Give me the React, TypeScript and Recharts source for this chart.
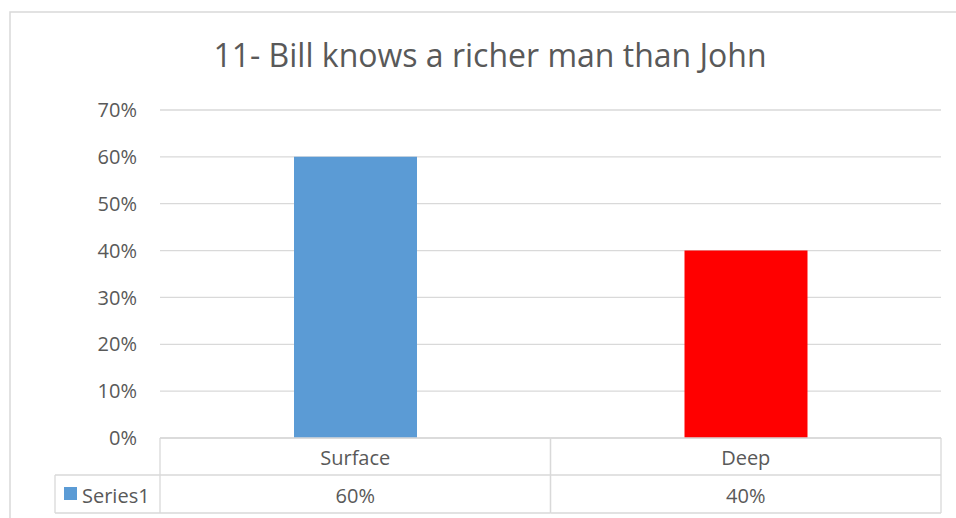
import React from 'react';
import { BarChart, Bar, XAxis, YAxis, CartesianGrid, Cell } from 'recharts';

const categories = ['Surface', 'Deep'];
const series1 = [0.6, 0.4];
const barColors = ['#5B9BD5', '#FF0000'];
const yTicks = [0, 0.1, 0.2, 0.3, 0.4, 0.5, 0.6, 0.7];
const seriesName = 'Series1';
const title = '11- Bill knows a richer man than John';

const data = categories.map((name, i) => ({ name, value: series1[i] }));

const W = 956;
const H = 518;
const FONT = '"Open Sans", "Noto Sans", sans-serif';
const TEXT = '#595959';
const LINE = '#d9d9d9';
const PLOT_LEFT = 160;
const PLOT_RIGHT = 941;
const HALF_BAND = (PLOT_RIGHT - PLOT_LEFT) / categories.length / 2;
const LABEL_SIZE = 20;

const pct = (v: number) => `${Math.round(v * 100)}%`;

const TableTick = (props: any) => {
  const { x, y, payload, index } = props;
  const left = x - HALF_BAND;
  const right = x + HALF_BAND;
  const top = y;
  const mid = y + 37;
  const bottom = y + 75;
  return (
    <g>
      <line x1={left} x2={right} y1={top} y2={top} stroke={LINE} strokeWidth={1.3} />
      <line x1={left} x2={right} y1={mid} y2={mid} stroke={LINE} strokeWidth={1.3} />
      <line x1={left} x2={right} y1={bottom} y2={bottom} stroke={LINE} strokeWidth={1.3} />
      <line x1={left} x2={left} y1={top} y2={bottom} stroke={LINE} strokeWidth={1.3} />
      <line x1={right} x2={right} y1={top} y2={bottom} stroke={LINE} strokeWidth={1.3} />
      <text x={x} y={top + 19} textAnchor="middle" dominantBaseline="central" fill={TEXT} fontSize={LABEL_SIZE} fontFamily={FONT}>
        {payload.value}
      </text>
      <text x={x} y={mid + 20} textAnchor="middle" dominantBaseline="central" fill={TEXT} fontSize={LABEL_SIZE} fontFamily={FONT}>
        {pct(series1[index])}
      </text>
      {index === 0 && (
        <g>
          <line x1={55} x2={left} y1={mid} y2={mid} stroke={LINE} strokeWidth={1.3} />
          <line x1={55} x2={left} y1={bottom} y2={bottom} stroke={LINE} strokeWidth={1.3} />
          <line x1={55} x2={55} y1={mid} y2={bottom} stroke={LINE} strokeWidth={1.3} />
          <rect x={64} y={mid + 12} width={13} height={13} fill={barColors[0]} />
          <text x={82} y={mid + 20} dominantBaseline="central" fill={TEXT} fontSize={LABEL_SIZE} fontFamily={FONT}>
            {seriesName}
          </text>
        </g>
      )}
    </g>
  );
};

export default function App() {
  return (
    <div style={{ position: 'absolute', left: 0, top: 0, width: W, height: H, overflow: 'hidden', background: '#fff' }}>
      <svg width={W} height={H} style={{ position: 'absolute', left: 0, top: 0 }}>
        <rect x={10} y={12} width={980} height={540} fill="#fff" stroke={LINE} strokeWidth={1.5} />
        <text x={490} y={67} textAnchor="middle" fill={TEXT} fontSize={32} fontFamily={FONT}>
          {title}
        </text>
      </svg>
      <div style={{ position: 'absolute', left: 0, top: 0 }}>
        <BarChart width={W} height={H} data={data} margin={{ top: 110, right: W - PLOT_RIGHT, bottom: 4, left: PLOT_LEFT - 60 }}>
          <CartesianGrid vertical={false} stroke={LINE} strokeWidth={1.3} />
          <XAxis
            dataKey="name"
            height={76}
            axisLine={false}
            tickLine={false}
            tickSize={0}
            tickMargin={0}
            interval={0}
            tick={<TableTick />}
          />
          <YAxis
            width={60}
            domain={[0, 0.7]}
            ticks={yTicks}
            tickFormatter={pct}
            axisLine={false}
            tickLine={false}
            tickSize={0}
            tickMargin={23}
            tick={{ fill: TEXT, fontSize: LABEL_SIZE, fontFamily: FONT }}
          />
          <Bar dataKey="value" barSize={123} isAnimationActive={false}>
            {data.map((d, i) => (
              <Cell key={d.name} fill={barColors[i]} />
            ))}
          </Bar>
        </BarChart>
      </div>
    </div>
  );
}
